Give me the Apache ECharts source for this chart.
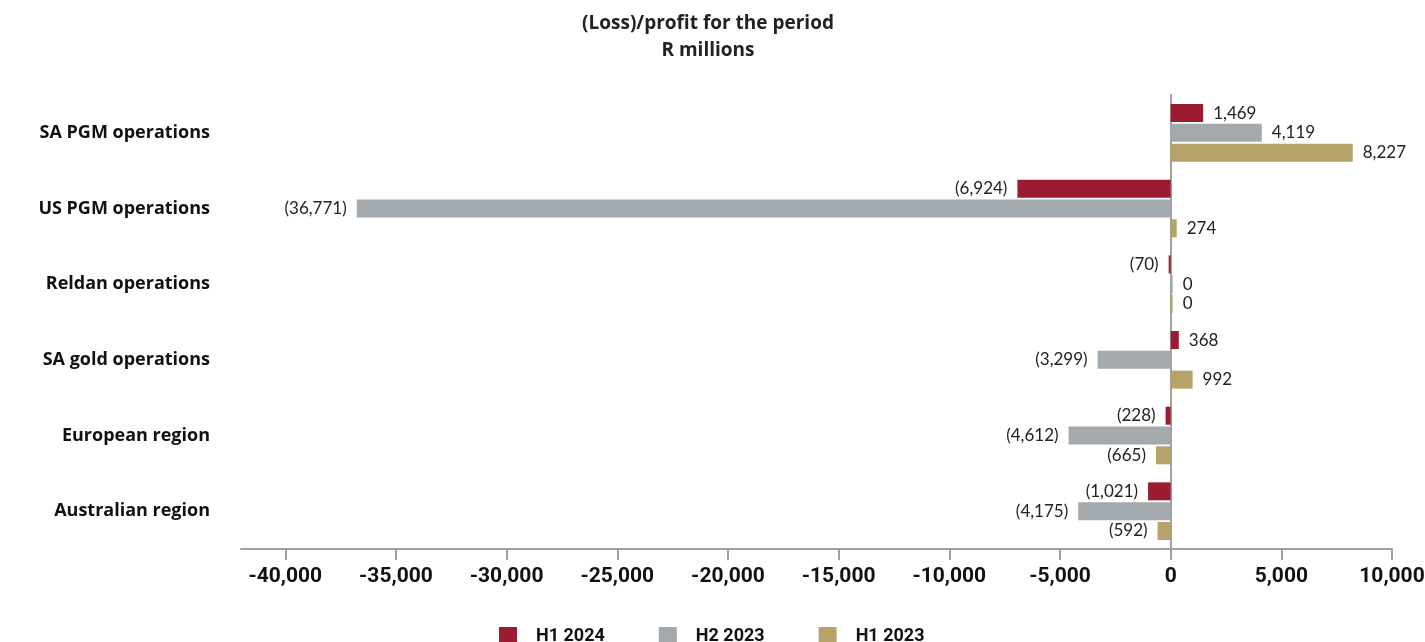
<!DOCTYPE html>
<html><head><meta charset="utf-8">
<script src="https://cdn.jsdelivr.net/npm/echarts@6/dist/echarts.min.js"></script>
<style>html,body{margin:0;padding:0;background:#fff}#c{width:1425px;height:642px}</style>
</head><body><div id="c"></div>
<script>
const categories = ['SA PGM operations','US PGM operations','Reldan operations','SA gold operations','European region','Australian region'];
const seriesNames = ['H1 2024','H2 2023','H1 2023'];
const h1_2024 = [1469, -6924, -70, 368, -228, -1021];
const h2_2023 = [4119, -36771, 0, -3299, -4612, -4175];
const h1_2023 = [8227, 274, 0, 992, -665, -592];
const xTicks = [-40000,-35000,-30000,-25000,-20000,-15000,-10000,-5000,0,5000,10000];
const colors = ['#9b1c31','#a3a9ac','#b5a36a'];

function fmt(v){
  const s = Math.abs(v).toLocaleString('en-US');
  return v < 0 ? '(' + s + ')' : s;
}
function mk(arr){
  return arr.map(v => ({value:v, label:{position: v < 0 ? 'left' : 'right'}}));
}
const chart = echarts.init(document.getElementById('c'));
const labelFont = {fontFamily:'Lato, "Open Sans", sans-serif', fontSize:17, color:'#222'};
chart.setOption({
  animation:false,
  title:{text:'(Loss)/profit for the period\nR millions', left:703, textAlign:'center', top:5,
    textStyle:{fontFamily:'"Open Sans", sans-serif', fontWeight:'bold', fontSize:19, lineHeight:27, color:'#222'}},
  legend:{bottom:-8, left:494, itemWidth:18, itemHeight:18, itemGap:54, icon:'rect',
    textStyle:{fontFamily:'Roboto, sans-serif', fontWeight:'bold', fontSize:18, color:'#111', padding:[0,0,0,14]},
    data:seriesNames},
  grid:{left:241, right:33, top:95, bottom:93, containLabel:false, outerBoundsMode:'none'},
  xAxis:{type:'value', min:-42000, max:10000,
    axisLine:{show:true, lineStyle:{color:'#a0a0a0', width:2}},
    axisTick:{show:true, length:11, customValues:xTicks, lineStyle:{color:'#a0a0a0', width:2}},
    splitLine:{show:false},
    axisLabel:{customValues:xTicks, margin:17, formatter:v=>v.toLocaleString('en-US'),
      fontFamily:'Roboto, sans-serif', fontWeight:'bold', fontSize:21, color:'#111'}},
  yAxis:{type:'category', data:categories, inverse:true,
    axisLine:{show:true, lineStyle:{color:'#a0a0a0', width:2}},
    axisTick:{show:false},
    axisLabel:{margin:31, padding:[4,0,0,0], fontFamily:'"Open Sans", sans-serif', fontWeight:'bold', fontSize:18, color:'#111'}},
  series:[h1_2024,h2_2023,h1_2023].map((arr,i)=>({
    name:seriesNames[i], type:'bar', data:mk(arr), barWidth:18, barGap:'10%', barMinHeight:2,
    itemStyle:{color:colors[i]},
    label:{show:true, distance:10, formatter:p=>fmt(p.value), ...labelFont}
  }))
});
</script></body></html>
